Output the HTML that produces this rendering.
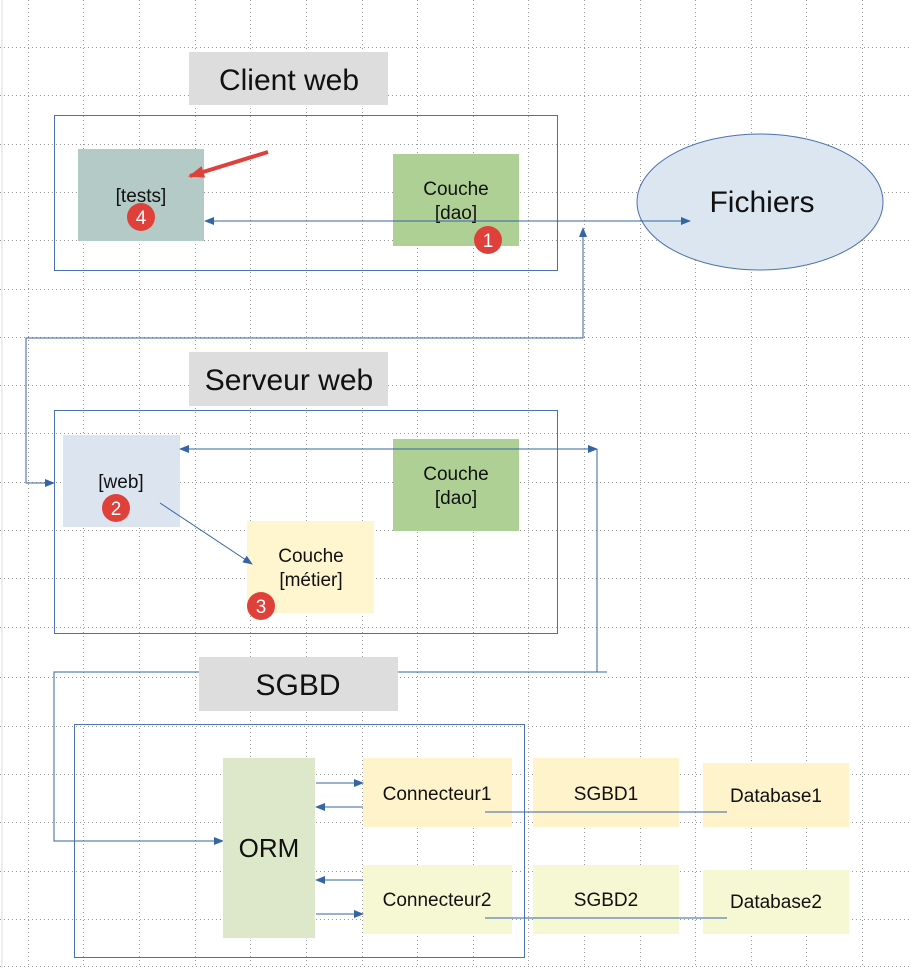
<!DOCTYPE html>
<html><head><meta charset="utf-8"><style>
html,body{margin:0;padding:0;background:#fff}
svg{display:block}
text{font-family:"Liberation Sans",sans-serif;fill:#111}
</style></head><body>
<svg width="912" height="968" viewBox="0 0 912 968" xmlns="http://www.w3.org/2000/svg">
<defs>
<marker id="a" markerWidth="10" markerHeight="8" refX="9" refY="4" orient="auto" markerUnits="userSpaceOnUse"><path d="M0,0 L10,4 L0,8 Z" fill="#3465a4"/></marker>
<marker id="r" markerWidth="16" markerHeight="12" refX="14" refY="6" orient="auto" markerUnits="userSpaceOnUse"><path d="M0,0 L16,6 L0,12 Z" fill="#e0403a"/></marker>
</defs>
<g stroke="#999" stroke-width="1" stroke-dasharray="1,3">
<line x1="0" y1="47.5" x2="912" y2="47.5"/><line x1="0" y1="95.5" x2="912" y2="95.5"/><line x1="0" y1="144.5" x2="912" y2="144.5"/><line x1="0" y1="192.5" x2="912" y2="192.5"/><line x1="0" y1="240.5" x2="912" y2="240.5"/><line x1="0" y1="289.5" x2="912" y2="289.5"/><line x1="0" y1="337.5" x2="912" y2="337.5"/><line x1="0" y1="385.5" x2="912" y2="385.5"/><line x1="0" y1="433.5" x2="912" y2="433.5"/><line x1="0" y1="482.5" x2="912" y2="482.5"/><line x1="0" y1="530.5" x2="912" y2="530.5"/><line x1="0" y1="578.5" x2="912" y2="578.5"/><line x1="0" y1="627.5" x2="912" y2="627.5"/><line x1="0" y1="677.5" x2="912" y2="677.5"/><line x1="0" y1="726.5" x2="912" y2="726.5"/><line x1="0" y1="774.5" x2="912" y2="774.5"/><line x1="0" y1="822.5" x2="912" y2="822.5"/><line x1="0" y1="871.5" x2="912" y2="871.5"/><line x1="0" y1="919.5" x2="912" y2="919.5"/><line x1="0" y1="966.5" x2="912" y2="966.5"/>
<line x1="28.5" y1="0" x2="28.5" y2="968"/><line x1="83.5" y1="0" x2="83.5" y2="968"/><line x1="139.5" y1="0" x2="139.5" y2="968"/><line x1="195.5" y1="0" x2="195.5" y2="968"/><line x1="250.5" y1="0" x2="250.5" y2="968"/><line x1="306.5" y1="0" x2="306.5" y2="968"/><line x1="362.5" y1="0" x2="362.5" y2="968"/><line x1="417.5" y1="0" x2="417.5" y2="968"/><line x1="473.5" y1="0" x2="473.5" y2="968"/><line x1="528.5" y1="0" x2="528.5" y2="968"/><line x1="584.5" y1="0" x2="584.5" y2="968"/><line x1="640.5" y1="0" x2="640.5" y2="968"/><line x1="695.5" y1="0" x2="695.5" y2="968"/><line x1="751.5" y1="0" x2="751.5" y2="968"/><line x1="806.5" y1="0" x2="806.5" y2="968"/><line x1="862.5" y1="0" x2="862.5" y2="968"/>
</g>
<line x1="2" y1="0" x2="2" y2="968" stroke="#ddd"/>

<!-- Client web -->
<rect x="189" y="52" width="199" height="53" fill="#dddddd"/>
<text x="289" y="90" font-size="30" text-anchor="middle">Client web</text>
<rect x="54.5" y="115.5" width="503" height="155" fill="none" stroke="#4a72b0"/>
<rect x="78" y="149" width="126" height="92" fill="#b3cac6"/>
<text x="141" y="202" font-size="19" text-anchor="middle">[tests]</text>
<rect x="393" y="154" width="126" height="92" fill="#afd095"/>
<text x="456" y="195" font-size="19" text-anchor="middle">Couche</text>
<text x="456" y="219" font-size="19" text-anchor="middle">[dao]</text>
<ellipse cx="760" cy="202" rx="123" ry="68" fill="#dce6f0" stroke="#4a72b0"/>
<text x="762" y="212" font-size="30" text-anchor="middle">Fichiers</text>
<line x1="210" y1="221" x2="690" y2="221" stroke="#3465a4" marker-end="url(#a)"/>
<line x1="400" y1="221" x2="205" y2="221" stroke="#3465a4" marker-end="url(#a)"/>
<line x1="268" y1="152" x2="190" y2="176" stroke="#e0403a" stroke-width="4" marker-end="url(#r)"/>
<polyline points="54,483 26,483 26,338 583,338 583,229" fill="none" stroke="#3465a4"/>
<line x1="583" y1="250" x2="583" y2="228" stroke="#3465a4" marker-end="url(#a)"/>
<line x1="30" y1="483" x2="54" y2="483" stroke="#3465a4" marker-end="url(#a)"/>

<!-- Serveur web -->
<rect x="189" y="352" width="199" height="54" fill="#dddddd"/>
<text x="289" y="390" font-size="30" text-anchor="middle">Serveur web</text>
<rect x="54.5" y="410.5" width="503" height="223" fill="none" stroke="#4a72b0"/>
<rect x="63" y="435" width="117" height="92" fill="#dce5ef"/>
<text x="121" y="488" font-size="19" text-anchor="middle">[web]</text>
<rect x="393" y="439" width="126" height="92" fill="#afd095"/>
<text x="456" y="480" font-size="19" text-anchor="middle">Couche</text>
<text x="456" y="504" font-size="19" text-anchor="middle">[dao]</text>
<rect x="247" y="521" width="127" height="92" fill="#fff6cf"/>
<text x="311" y="562" font-size="19" text-anchor="middle">Couche</text>
<text x="311" y="586" font-size="19" text-anchor="middle">[métier]</text>
<line x1="190" y1="449" x2="597" y2="449" stroke="#3465a4" marker-end="url(#a)"/>
<line x1="400" y1="449" x2="180" y2="449" stroke="#3465a4" marker-end="url(#a)"/>
<line x1="160" y1="503" x2="252" y2="564" stroke="#3465a4" marker-end="url(#a)"/>
<polyline points="597,449 597,672 54,672 54,841 222,841" fill="none" stroke="#3465a4"/>
<line x1="200" y1="841" x2="223" y2="841" stroke="#3465a4" marker-end="url(#a)"/>
<line x1="597" y1="672" x2="607" y2="672" stroke="#3465a4"/>

<!-- SGBD -->
<rect x="199" y="657" width="199" height="54" fill="#dddddd"/>
<text x="298" y="695" font-size="30" text-anchor="middle">SGBD</text>
<rect x="74.5" y="724.5" width="450" height="233" fill="none" stroke="#4a72b0"/>
<rect x="223" y="758" width="92" height="180" fill="#dde8cb"/>
<text x="269" y="857" font-size="26" text-anchor="middle">ORM</text>
<rect x="363" y="758" width="149" height="69" fill="#fff3cc"/>
<text x="437" y="800" font-size="19" text-anchor="middle">Connecteur1</text>
<rect x="533" y="758" width="146" height="69" fill="#fff3cc"/>
<text x="606" y="800" font-size="19" text-anchor="middle">SGBD1</text>
<rect x="703" y="763" width="146" height="64" fill="#fff3cc"/>
<text x="776" y="802" font-size="19" text-anchor="middle">Database1</text>
<rect x="363" y="865" width="149" height="69" fill="#f6f8d4"/>
<text x="437" y="906" font-size="19" text-anchor="middle">Connecteur2</text>
<rect x="533" y="865" width="146" height="69" fill="#f6f8d4"/>
<text x="606" y="906" font-size="19" text-anchor="middle">SGBD2</text>
<rect x="703" y="870" width="146" height="64" fill="#f6f8d4"/>
<text x="776" y="908" font-size="19" text-anchor="middle">Database2</text>
<line x1="316" y1="783" x2="363" y2="783" stroke="#3465a4" marker-end="url(#a)"/>
<line x1="363" y1="807" x2="316" y2="807" stroke="#3465a4" marker-end="url(#a)"/>
<line x1="363" y1="880" x2="316" y2="880" stroke="#3465a4" marker-end="url(#a)"/>
<line x1="316" y1="914" x2="363" y2="914" stroke="#3465a4" marker-end="url(#a)"/>
<line x1="485" y1="812" x2="727" y2="812" stroke="#3465a4"/>
<line x1="485" y1="918" x2="727" y2="918" stroke="#3465a4"/>

<!-- badges -->
<g font-size="19" text-anchor="middle">
<circle cx="141" cy="217" r="14" fill="#e0403a"/><text x="141" y="224" style="fill:#fff">4</text>
<circle cx="488" cy="240" r="14" fill="#e0403a"/><text x="488" y="247" style="fill:#fff">1</text>
<circle cx="116" cy="508" r="14" fill="#e0403a"/><text x="116" y="515" style="fill:#fff">2</text>
<circle cx="261" cy="606" r="14" fill="#e0403a"/><text x="261" y="613" style="fill:#fff">3</text>
</g>
</svg>
</body></html>
